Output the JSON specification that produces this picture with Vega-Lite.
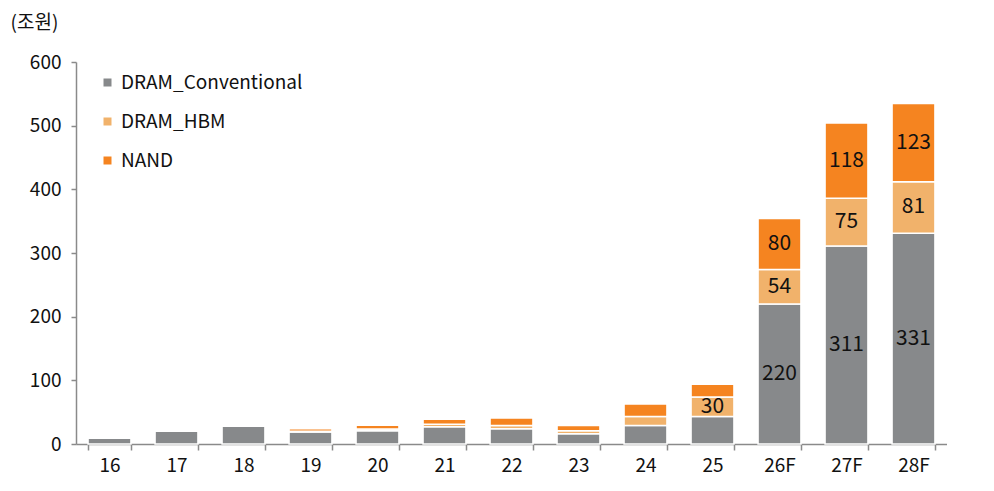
{
  "$schema": "https://vega.github.io/schema/vega-lite/v6.json",
  "autosize": {"type": "none"},
  "padding": {"left": 76, "top": 62, "right": 0, "bottom": 47},
  "width": 871,
  "height": 382,
  "background": "white",
  "config": {
    "font": "Noto Sans CJK KR",
    "view": {"stroke": null}
  },
  "data": {
    "values": [
      {"year": "16", "series": "DRAM_Conventional", "ord": 1, "value": 9, "label": null},
      {"year": "17", "series": "DRAM_Conventional", "ord": 1, "value": 20, "label": null},
      {"year": "18", "series": "DRAM_Conventional", "ord": 1, "value": 28, "label": null},
      {"year": "19", "series": "DRAM_Conventional", "ord": 1, "value": 19, "label": null},
      {"year": "19", "series": "DRAM_HBM", "ord": 2, "value": 1, "label": null},
      {"year": "19", "series": "NAND", "ord": 3, "value": 4, "label": null},
      {"year": "20", "series": "DRAM_Conventional", "ord": 1, "value": 21, "label": null},
      {"year": "20", "series": "DRAM_HBM", "ord": 2, "value": 2.5, "label": null},
      {"year": "20", "series": "NAND", "ord": 3, "value": 6, "label": null},
      {"year": "21", "series": "DRAM_Conventional", "ord": 1, "value": 27, "label": null},
      {"year": "21", "series": "DRAM_HBM", "ord": 2, "value": 4, "label": null},
      {"year": "21", "series": "NAND", "ord": 3, "value": 8, "label": null},
      {"year": "22", "series": "DRAM_Conventional", "ord": 1, "value": 24, "label": null},
      {"year": "22", "series": "DRAM_HBM", "ord": 2, "value": 5, "label": null},
      {"year": "22", "series": "NAND", "ord": 3, "value": 12, "label": null},
      {"year": "23", "series": "DRAM_Conventional", "ord": 1, "value": 16, "label": null},
      {"year": "23", "series": "DRAM_HBM", "ord": 2, "value": 5, "label": null},
      {"year": "23", "series": "NAND", "ord": 3, "value": 8, "label": null},
      {"year": "24", "series": "DRAM_Conventional", "ord": 1, "value": 29, "label": null},
      {"year": "24", "series": "DRAM_HBM", "ord": 2, "value": 14, "label": null},
      {"year": "24", "series": "NAND", "ord": 3, "value": 20, "label": null},
      {"year": "25", "series": "DRAM_Conventional", "ord": 1, "value": 43, "label": null},
      {"year": "25", "series": "DRAM_HBM", "ord": 2, "value": 31, "label": "30"},
      {"year": "25", "series": "NAND", "ord": 3, "value": 20, "label": null},
      {"year": "26F", "series": "DRAM_Conventional", "ord": 1, "value": 220, "label": "220"},
      {"year": "26F", "series": "DRAM_HBM", "ord": 2, "value": 54, "label": "54"},
      {"year": "26F", "series": "NAND", "ord": 3, "value": 80, "label": "80"},
      {"year": "27F", "series": "DRAM_Conventional", "ord": 1, "value": 311, "label": "311"},
      {"year": "27F", "series": "DRAM_HBM", "ord": 2, "value": 75, "label": "75"},
      {"year": "27F", "series": "NAND", "ord": 3, "value": 118, "label": "118"},
      {"year": "28F", "series": "DRAM_Conventional", "ord": 1, "value": 331, "label": "331"},
      {"year": "28F", "series": "DRAM_HBM", "ord": 2, "value": 81, "label": "81"},
      {"year": "28F", "series": "NAND", "ord": 3, "value": 123, "label": "123"}
    ]
  },
  "transform": [
    {"stack": "value", "groupby": ["year"], "sort": [{"field": "ord", "order": "ascending"}], "as": ["y0", "y1"]},
    {"calculate": "(datum.y0 + datum.y1) / 2", "as": "mid"}
  ],
  "encoding": {
    "x": {
      "field": "year", "type": "ordinal", "sort": null,
      "scale": {"paddingInner": 0.36, "paddingOuter": 0.18},
      "axis": {
        "title": null, "labelAngle": 0, "labelFontSize": 19, "labelColor": "#111",
        "labelPadding": 6, "domainColor": "#8a8a8a", "domainWidth": 1.5,
        "tickColor": "#8a8a8a", "tickWidth": 1.5, "tickSize": 6, "tickBand": "extent"
      }
    }
  },
  "layer": [
    {
      "mark": {"type": "bar", "stroke": "white", "strokeWidth": 1.5},
      "encoding": {
        "y": {
          "field": "y0", "type": "quantitative",
          "scale": {"domain": [0, 600], "nice": false},
          "axis": {
            "values": [0, 100, 200, 300, 400, 500, 600], "grid": false,
            "title": "(조원)", "titleAngle": 0, "titleAlign": "left", "titleBaseline": "middle",
            "titleX": -66, "titleY": -40, "titleFontSize": 19, "titleFontWeight": "normal", "titleColor": "#111",
            "labelFontSize": 19, "labelColor": "#111", "labelPadding": 10,
            "domainColor": "#8a8a8a", "domainWidth": 1.5,
            "tickColor": "#8a8a8a", "tickWidth": 1.5, "tickSize": 5
          }
        },
        "y2": {"field": "y1"},
        "color": {
          "field": "series", "type": "nominal",
          "scale": {"domain": ["DRAM_Conventional", "DRAM_HBM", "NAND"], "range": ["#87898b", "#f1b26b", "#f58420"]},
          "legend": {
            "title": null, "orient": "none", "legendX": 22, "legendY": 11,
            "symbolType": "square", "symbolSize": 64, "symbolStrokeWidth": 0,
            "labelFontSize": 19, "labelColor": "#111", "rowPadding": 19, "labelOffset": 4, "labelLimit": 400
          }
        }
      }
    },
    {
      "transform": [{"filter": "datum.label != null"}],
      "mark": {"type": "text", "fontSize": 21, "color": "#111", "baseline": "middle"},
      "encoding": {
        "y": {"field": "mid", "type": "quantitative"},
        "text": {"field": "label"}
      }
    }
  ]
}
